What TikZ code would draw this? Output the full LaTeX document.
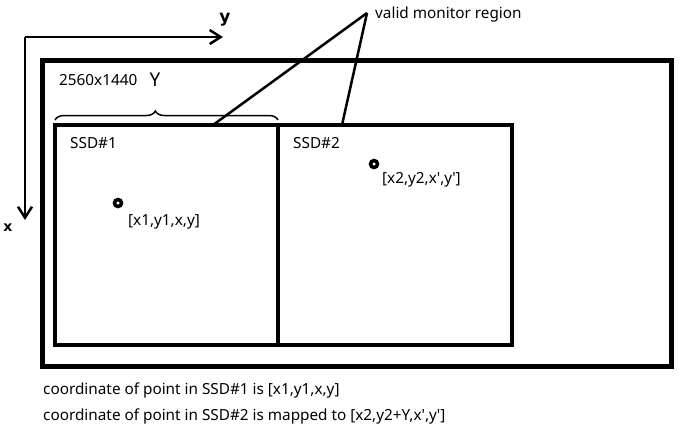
\documentclass[tikz,border=0pt]{standalone}
\usepackage{fontspec}
\setmainfont{Noto Sans}
\newfontfamily\handfont{DejaVu Sans}
\usetikzlibrary{arrows.meta,decorations.pathreplacing,calc}
\newcommand{\sq}{\textquotesingle}
\begin{document}
\begin{tikzpicture}[x=1pt,y=-1pt,
  lbl/.style={font=\fontsize{15.3}{17}\selectfont, inner sep=0pt, anchor=west},
  hand/.style={font=\handfont\bfseries\fontsize{17}{19}\selectfont, inner sep=0pt},
  box/.style={draw, line width=4pt, inner sep=0pt},
  axis/.style={line width=2.5pt, -{Straight Barb[length=11pt,width=14pt,line width=2.5pt]}},
  pointer/.style={line width=2.5pt},
  dot/.style={circle, draw, line width=3.5pt, minimum size=7pt, inner sep=0pt}]
\useasboundingbox (0,0) rectangle (682,432);
% axes
\coordinate (o) at (25,37);
\coordinate (xend) at (25,220);
\coordinate (yend) at (223,37);
\draw[axis] (o) -- (yend);
\draw[axis] (o) -- (xend);
\node[hand] (ylab) at (225,20) {y};
\node[hand, font=\handfont\bfseries\fontsize{14}{16}\selectfont] (xlab) at (8,228) {x};
% monitor and SSDs
\node[box, line width=5pt, minimum width=629pt, minimum height=306pt] (mon) at (356.5,213) {};
\node[box, minimum width=223pt, minimum height=220pt] (ssd1) at (166.5,235) {};
\node[box, minimum width=234pt, minimum height=220pt] (ssd2) at (395,235) {};
% brace
\coordinate (bl) at (55,120);
\coordinate (br) at (278,120);
\draw[line width=1.5pt, decorate, decoration={brace, amplitude=9pt, aspect=0.45}] (bl) -- (br);
\node[lbl] (res) at (59,80) {2560x1440};
\node[inner sep=0pt, font=\fontsize{19}{21}\selectfont] (Ylab) at (155,80) {Y};
% pointer
\node[lbl] (vmr) at (375,15) {valid monitor region};
\coordinate (apex) at (367,13);
\coordinate (p1) at (213,125);
\coordinate (p2) at (342,125);
\draw[pointer] (apex) -- (p1);
\draw[pointer] (apex) -- (p2);
% labels
\node[lbl] (s1) at (70,143) {SSD\#1};
\node[lbl] (s2) at (293,143) {SSD\#2};
\node[dot] (c1) at (118,203) {};
\node[lbl] (l1) at (128,222) {[x1,y1,x,y]};
\node[dot] (c2) at (374,164) {};
\node[lbl] (l2) at (382,180) {[x2,y2,x\sq,y\sq]};
\node[lbl] (t1) at (43,390) {coordinate of point in SSD\#1 is [x1,y1,x,y]};
\node[lbl] (t2) at (43,416) {coordinate of point in SSD\#2 is mapped to [x2,y2+Y,x\sq,y\sq]};
\end{tikzpicture}
\end{document}
